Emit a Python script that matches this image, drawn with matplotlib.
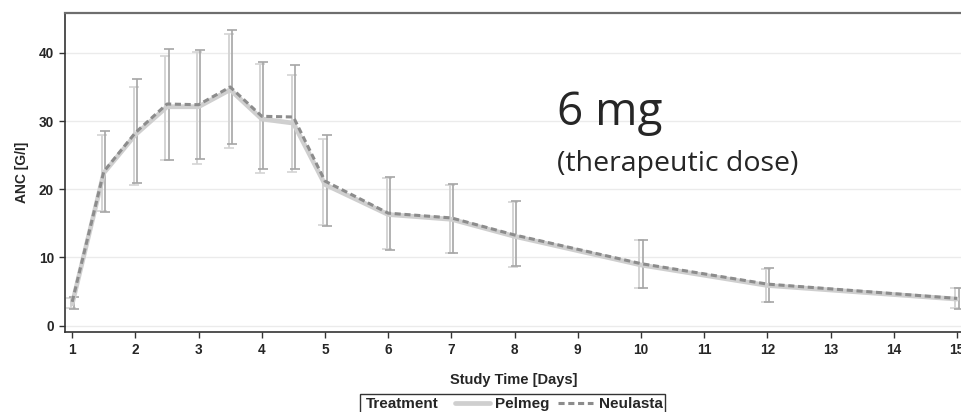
import matplotlib
matplotlib.use("Agg")
import matplotlib.pyplot as plt
from matplotlib.patches import Rectangle
from matplotlib.transforms import ScaledTranslation

# ---- data ----
times = [1, 1.5, 2, 2.5, 3, 3.5, 4, 4.5, 5, 6, 7, 8, 10, 12, 15]
pelmeg_mean = [3.2, 22.4, 28.0, 32.1, 32.1, 34.6, 30.3, 29.7, 20.7, 16.3, 15.6, 13.1, 8.9, 5.9, 3.9]
pelmeg_upper = [4.0, 28.0, 35.0, 39.5, 40.1, 42.8, 38.4, 36.8, 27.4, 21.6, 20.6, 18.1, 12.5, 8.3, 5.5]
pelmeg_lower = [2.6, 16.8, 20.7, 24.3, 23.7, 26.1, 22.4, 22.6, 14.7, 11.2, 10.7, 8.6, 5.6, 3.5, 2.6]
neulasta_mean = [3.5, 22.6, 28.3, 32.5, 32.4, 35.0, 30.7, 30.6, 21.2, 16.5, 15.8, 13.3, 9.1, 6.1, 4.0]
neulasta_upper = [4.2, 28.5, 36.1, 40.6, 40.4, 43.3, 38.6, 38.2, 28.0, 21.8, 20.8, 18.3, 12.6, 8.4, 5.6]
neulasta_lower = [2.4, 16.7, 20.9, 24.3, 24.5, 26.7, 22.9, 22.9, 14.6, 11.1, 10.6, 8.7, 5.5, 3.5, 2.5]
x_ticks = list(range(1, 16))
y_ticks = [0, 10, 20, 30, 40]
series_names = ["Pelmeg", "Neulasta"]

W, H = 962, 412
fig = plt.figure(figsize=(W / 100, H / 100), dpi=100)
ax = fig.add_axes([65 / W, 1 - 331.7 / H, 1 - 65 / W, (331.7 - 13.3) / H])
ax.set_xlim(0.886, 15.08)
ax.set_ylim(-0.88, 45.8)

tick_font = dict(family="Liberation Sans", weight="bold", size=9.8)
dark = "#262626"

# grid
for yv in y_ticks:
    ax.axhline(yv, color="#ebebeb", lw=1.0, zorder=0)

pel_col = "#cfcfcf"
neu_col = "#8c8c8c"

off_p = ax.transData + ScaledTranslation(-1.2 / 72, 0, fig.dpi_scale_trans)
off_n = ax.transData + ScaledTranslation(1.2 / 72, 0, fig.dpi_scale_trans)

pel_err = [[m - l for m, l in zip(pelmeg_mean, pelmeg_lower)],
           [u - m for m, u in zip(pelmeg_mean, pelmeg_upper)]]
neu_err = [[m - l for m, l in zip(neulasta_mean, neulasta_lower)],
           [u - m for m, u in zip(neulasta_mean, neulasta_upper)]]

ax.errorbar(times, pelmeg_mean, yerr=pel_err, fmt="none", ecolor="#d4d4d4",
            elinewidth=1.4, capsize=3.4, capthick=1.2, transform=off_p, zorder=2)
ax.errorbar(times, neulasta_mean, yerr=neu_err, fmt="none", ecolor="#a6a6a6",
            elinewidth=1.2, capsize=3.4, capthick=1.2, transform=off_n, zorder=2)

l_pel, = ax.plot(times, pelmeg_mean, color=pel_col, lw=3.4, solid_capstyle="round", zorder=3)
l_neu, = ax.plot(times, neulasta_mean, color=neu_col, lw=2.2, dashes=(2.0, 1.2), zorder=4)

ax.spines["right"].set_visible(False)
ax.spines["top"].set_color("#6e6e6e")
ax.spines["top"].set_linewidth(1.6)
ax.spines["left"].set_color("#333333")
ax.spines["bottom"].set_color("#333333")
ax.spines["left"].set_linewidth(1.2)
ax.spines["bottom"].set_linewidth(1.2)

ax.set_xticks(x_ticks)
ax.set_yticks(y_ticks)
ax.set_xticklabels([str(t) for t in x_ticks], fontdict=tick_font, color=dark)
ax.set_yticklabels([str(t) for t in y_ticks], fontdict=tick_font, color=dark)
ax.tick_params(axis="both", direction="out", length=4, width=1.0, color="#333333", pad=4)

ax.set_xlabel("Study Time [Days]", family="Liberation Sans", weight="bold", size=10.5,
              color=dark, labelpad=12)
ax.set_ylabel("ANC [G/I]", family="Liberation Sans", weight="bold", size=10,
              color=dark, labelpad=7)

# annotation
fig.text(557 / W, 1 - 125 / H, "6 mg", family="Open Sans", size=33, color="#262626",
         va="baseline")
fig.text(557 / W, 1 - 171 / H, "(therapeutic dose)", family="Open Sans", size=20.5,
         color="#262626", va="baseline")

# legend
fig.patches.append(Rectangle((360 / W, -0.05), 305 / W, (412 - 394) / H + 0.05,
                             transform=fig.transFigure, fill=False, edgecolor="#333333",
                             lw=1.0))
fig.text(366 / W, 1 - 404 / H, "Treatment", family="Liberation Sans", weight="bold",
         size=11, color=dark, va="center")
leg = fig.legend([l_pel, l_neu], series_names, loc="center left",
                 bbox_to_anchor=(455 / W, 1 - 404 / H), ncol=2, frameon=False,
                 prop=dict(family="Liberation Sans", weight="bold", size=11),
                 handlelength=2.3, handletextpad=0.35, columnspacing=0.55,
                 borderpad=0, borderaxespad=0)
for t in leg.get_texts():
    t.set_color(dark)

fig.savefig("out.png", dpi=100)
